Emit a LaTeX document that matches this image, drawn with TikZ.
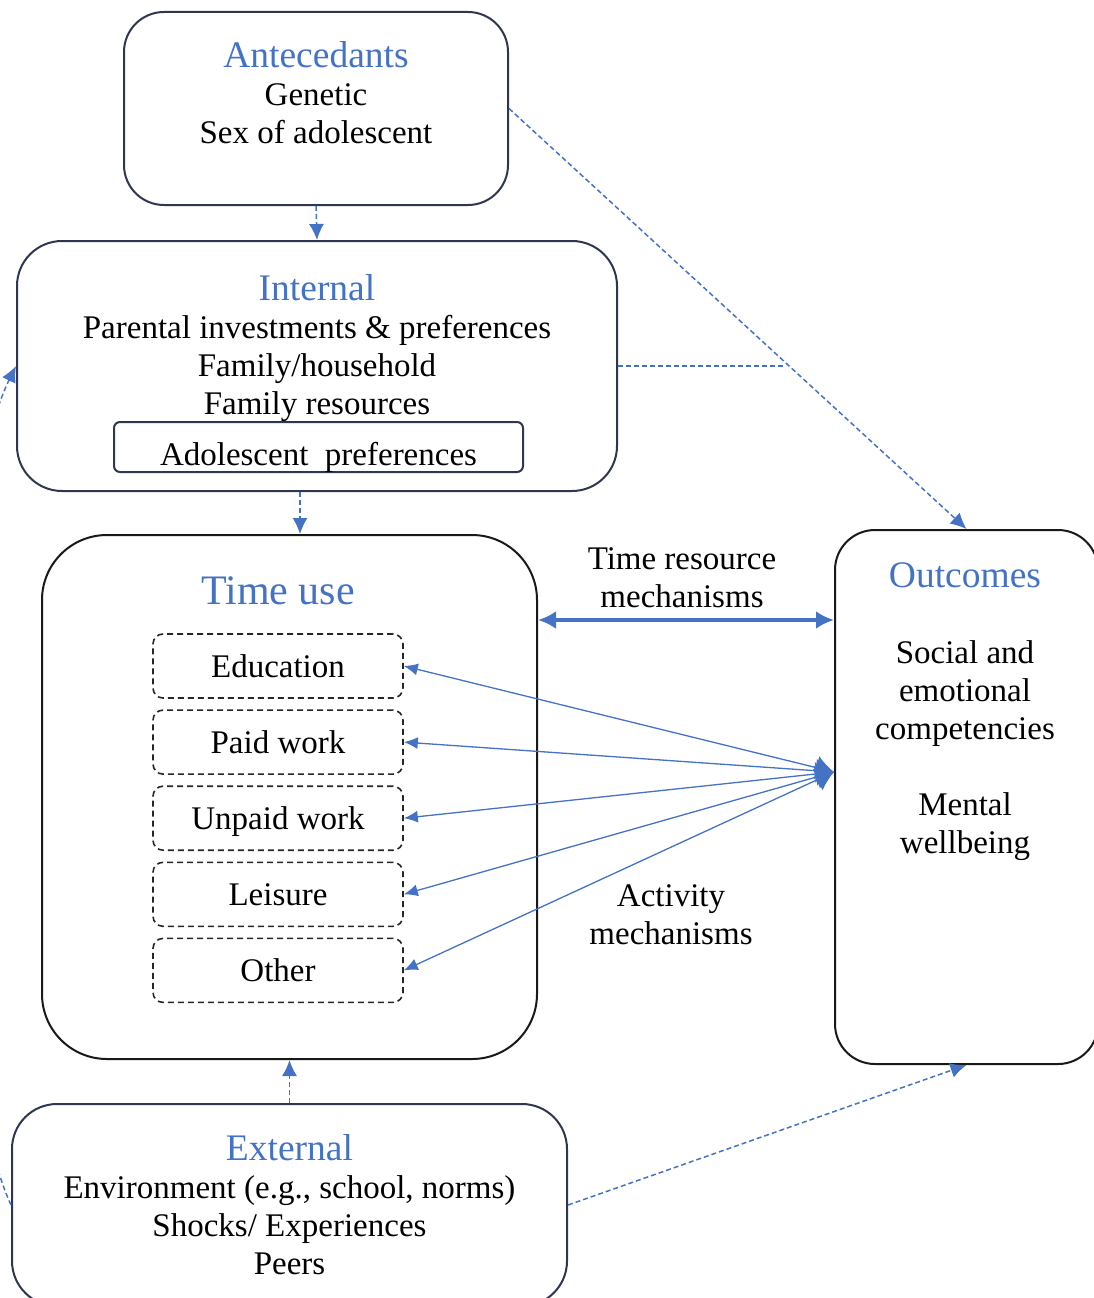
\documentclass[tikz,border=0pt]{standalone}
\usepackage{fontspec}
\setmainfont{Liberation Serif}
\usetikzlibrary{arrows.meta,positioning}
\definecolor{hdblue}{RGB}{68,114,196}
\definecolor{boxline}{RGB}{47,55,80}
\newcommand{\headtxt}[1]{{\color{hdblue}\fontsize{37.5}{40}\selectfont #1}}

\begin{document}
\begin{tikzpicture}[x=1pt,y=-1pt,node distance=10.5pt,font=\fontsize{33}{38}\selectfont]

  \tikzstyle{outer}=[draw=boxline,line width=2pt,rounded corners=42pt,inner sep=0pt]
  \tikzstyle{black outer}=[outer,draw=black!90]
  \tikzstyle{activity}=[draw=black!85,line width=1.6pt,dash pattern=on 6pt off 4pt,
                        rounded corners=10pt,minimum width=250pt,minimum height=64pt,
                        text height=23pt,text depth=0pt,inner sep=0pt]
  \tikzstyle{txt}=[align=center,inner sep=0pt]
  \tikzstyle{link}=[hdblue,line width=1.5pt,dash pattern=on 5pt off 3pt]
  \tikzstyle{dash arrow}=[link,-{Latex[length=16pt,width=15pt]}]
  \tikzstyle{act arrow}=[hdblue,line width=1.3pt,
                         {Latex[length=14pt,width=12pt]}-{Latex[length=18pt,width=24pt]}]
  \tikzstyle{time arrow}=[hdblue,line width=4pt,
                          {Latex[length=18pt,width=18pt]}-{Latex[length=18pt,width=18pt]}]

  \useasboundingbox (0,0) rectangle (1093,1298);

  % boxes
  \node [outer,minimum width=384pt,minimum height=193pt,rounded corners=40pt] (ante) at (316,108.5) {};
  \node [outer,minimum width=600pt,minimum height=250pt,rounded corners=45pt] (int) at (317,366) {};
  \node [black outer,minimum width=495pt,minimum height=524pt,rounded corners=65pt] (tu) at (289.5,797) {};
  \node [black outer,minimum width=263pt,minimum height=534pt,rounded corners=40pt] (out) at (966.5,797) {};
  \node [outer,minimum width=555pt,minimum height=202pt,rounded corners=45pt] (ext) at (289.5,1205) {};

  \node [draw=boxline,line width=2pt,rounded corners=6pt,minimum width=409pt,minimum height=50pt,
         text height=43pt,text depth=7pt,inner sep=0pt] (adol) at (318.5,447) {Adolescent\ \ preferences};

  % texts
  \node [txt,anchor=north] (antetxt) at (316,41) {\headtxt{Antecedants}\\Genetic\\Sex of adolescent};
  \node [txt,anchor=north] (inttxt) at (317,274) {\headtxt{Internal}\\Parental investments \& preferences\\Family/household\\Family resources};
  \node [txt,anchor=base] (tutxt) at (278,604) {\color{hdblue}\fontsize{42}{46}\selectfont Time use};
  \node [txt,anchor=north] (outtxt) at (965,562) {\headtxt{Outcomes}\\[38pt]Social and\\emotional\\competencies\\[38pt]Mental\\wellbeing};
  \node [txt,anchor=north] (exttxt) at (289.5,1134) {\headtxt{External}\\Environment (e.g., school, norms)\\Shocks/ Experiences\\Peers};
  \node [txt,anchor=north] (trmtxt) at (682,547) {Time resource\\mechanisms};
  \node [txt,anchor=north] (acttxt) at (671,884) {Activity\\mechanisms};

  % activities
  \node [activity] (edu) at (278,666) {Education};
  \node [activity,below=of edu] (paid) {Paid work};
  \node [activity,below=of paid] (unpaid) {Unpaid work};
  \node [activity,below=of unpaid] (leis) {Leisure};
  \node [activity,below=of leis] (other) {Other};

  \coordinate (hub) at (out.west |- 0,772);
  \coordinate (trm) at (0,620);
  \coordinate (ax) at (300,0);
  \coordinate (jn) at (786,366);

  \foreach \a in {edu,paid,unpaid,leis,other}
    \draw [act arrow] (\a.east) -- (hub);

  \draw [time arrow] (tu.east |- trm) -- (out.west |- trm);

  \draw [dash arrow] (ante.south) -- (int.north);
  \draw [dash arrow] (int.south -| ax) -- (tu.north -| ax);
  \draw [dash arrow] (ext.north) -- (tu.south);
  \draw [dash arrow] (ante.east) -- (out.north);
  \draw [link] (int.east) -- (jn);
  \draw [dash arrow] (ext.east) -- (out.south);
  \draw [dash arrow] (ext.west) .. controls (-60,1050) and (-60,520) .. (int.west);

\end{tikzpicture}
\end{document}
